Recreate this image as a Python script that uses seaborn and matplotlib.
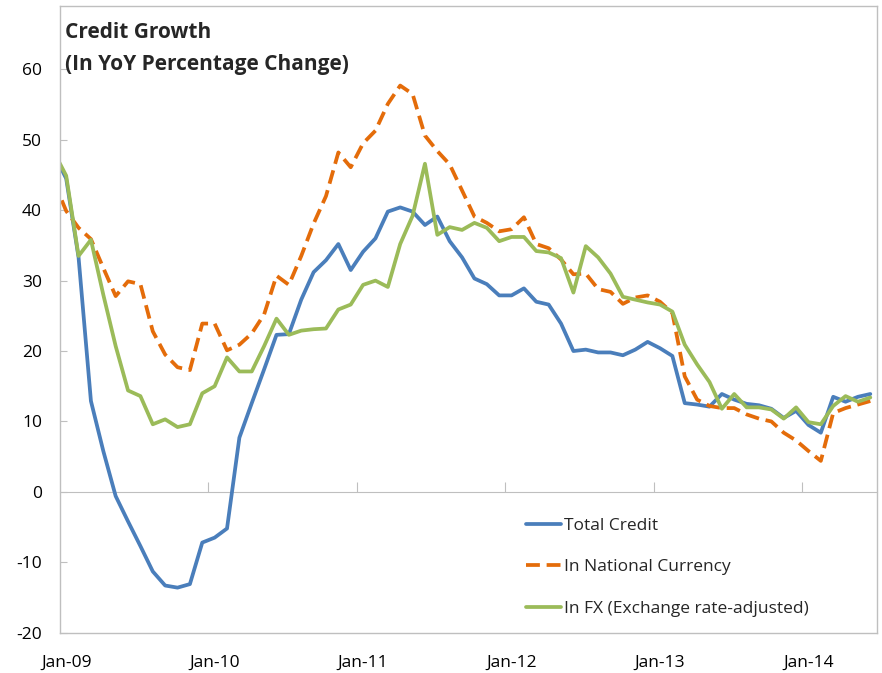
import pandas as pd
import seaborn as sns
import matplotlib.pyplot as plt

# monthly observations, Dec-08 .. Jun-14 (first one sits just left of the axis)
months = pd.period_range("2008-12", "2014-06", freq="M")

total_credit = [48.0, 44.5, 33.3, 12.9, 5.8, -0.6, -4.2, -7.7, -11.3, -13.3, -13.6, -13.1,
                -7.2, -6.5, -5.2, 7.7, 12.6, 17.4, 22.3, 22.4, 27.3, 31.2, 32.9, 35.2,
                31.5, 34.1, 36.0, 39.8, 40.4, 39.8, 37.9, 39.1, 35.6, 33.3, 30.3, 29.5,
                27.9, 27.9, 28.9, 27.0, 26.6, 23.9, 20.0, 20.2, 19.8, 19.8, 19.4, 20.2,
                21.3, 20.4, 19.3, 12.6, 12.4, 12.1, 13.9, 13.1, 12.5, 12.3, 11.8, 10.5,
                11.5, 9.5, 8.4, 13.5, 12.8, 13.5, 13.9]

national_currency = [44.1, 39.9, 37.5, 35.9, 31.8, 27.8, 29.9, 29.5, 22.8, 19.5, 17.7, 17.3,
                     23.9, 23.9, 20.1, 20.9, 22.5, 25.2, 30.7, 29.4, 33.5, 38.1, 42.0, 48.2,
                     46.1, 49.5, 51.3, 55.1, 57.7, 56.5, 50.6, 48.4, 46.5, 42.8, 39.1, 38.2,
                     37.0, 37.3, 39.0, 35.2, 34.6, 33.0, 30.9, 31.0, 28.8, 28.4, 26.7, 27.6,
                     27.9, 27.0, 25.4, 16.4, 13.1, 12.2, 11.9, 11.9, 11.0, 10.4, 10.0, 8.4,
                     7.3, 5.8, 4.4, 11.2, 11.9, 12.4, 12.9]

fx_adjusted = [48.3, 44.9, 33.5, 35.8, 28.0, 20.7, 14.4, 13.6, 9.6, 10.3, 9.2, 9.6,
               14.0, 15.0, 19.1, 17.1, 17.1, 20.7, 24.6, 22.3, 22.9, 23.1, 23.2, 25.9,
               26.6, 29.4, 30.0, 29.1, 35.2, 39.2, 46.6, 36.5, 37.6, 37.2, 38.2, 37.5,
               35.6, 36.2, 36.2, 34.2, 34.0, 33.2, 28.3, 34.9, 33.3, 31.0, 27.7, 27.3,
               26.9, 26.6, 25.6, 20.9, 18.1, 15.6, 11.8, 13.9, 12.0, 12.0, 11.7, 10.4,
               12.0, 9.9, 9.6, 12.2, 13.6, 12.8, 13.4]

series_names = ["Total Credit", "In National Currency", "In FX (Exchange rate-adjusted)"]
colors = ["#4A7EBB", "#E46C0A", "#9BBB59"]
year_labels = ["Jan-09", "Jan-10", "Jan-11", "Jan-12", "Jan-13", "Jan-14"]

# x position = month number from Jan-09, centred in its category
pos = [(m.year - 2009) * 12 + m.month - 1 + 0.5 for m in months]

df = pd.DataFrame({"pos": pos * 3,
                   "value": total_credit + national_currency + fx_adjusted,
                   "series": [s for s in series_names for _ in pos]})

sns.set_style("white")
plt.rcParams["font.family"] = ["Open Sans", "DejaVu Sans"]
plt.rcParams["axes.unicode_minus"] = False

fig = plt.figure(figsize=(8.82, 6.73), dpi=100)
ax = fig.add_axes([60 / 882, 1 - 632.7 / 673, 816.5 / 882, 626.7 / 673])

sns.lineplot(data=df, x="pos", y="value", hue="series", style="series",
             hue_order=series_names, style_order=series_names,
             palette=dict(zip(series_names, colors)),
             dashes={series_names[0]: "", series_names[1]: (3.7, 1.8), series_names[2]: ""},
             linewidth=2.7, ax=ax)

ymin, ymax = -20, 69
ax.set_xlim(0, 66)
ax.set_ylim(ymin, ymax)
ax.set_xlabel("")
ax.set_ylabel("")

grey = "#BFBFBF"
for sp in ax.spines.values():
    sp.set_color(grey)
    sp.set_linewidth(1)

ax.set_yticks(range(-20, 61, 10))
ax.tick_params(axis="y", direction="in", length=5, color=grey, pad=13,
               labelsize=12.5, labelcolor="#000000", left=True)
ax.set_xticks([12 * i + 0.5 for i in range(len(year_labels))])
ax.set_xticklabels(year_labels)
ax.tick_params(axis="x", length=0, pad=16, labelsize=12.5, labelcolor="#000000")

# horizontal axis line crossing at zero, with year tick marks
zero = ax.secondary_xaxis((0 - ymin) / (ymax - ymin))
zero.set_xticks([12 * i for i in range(1, 6)])
zero.tick_params(direction="in", length=7, color=grey, labelbottom=False)
zero.spines["bottom"].set_color(grey)

ax.text(0.006, 0.975, "Credit Growth\n(In YoY Percentage Change)", transform=ax.transAxes,
        ha="left", va="top", fontsize=15, fontweight="bold", linespacing=1.7)

ax.legend(loc="upper left", bbox_to_anchor=(0.5707, 0.1836), frameon=False,
          fontsize=12.5, handlelength=2.0, handletextpad=0.2, labelspacing=1.46,
          borderpad=0, borderaxespad=0)

fig.savefig("out.png", dpi=100)
